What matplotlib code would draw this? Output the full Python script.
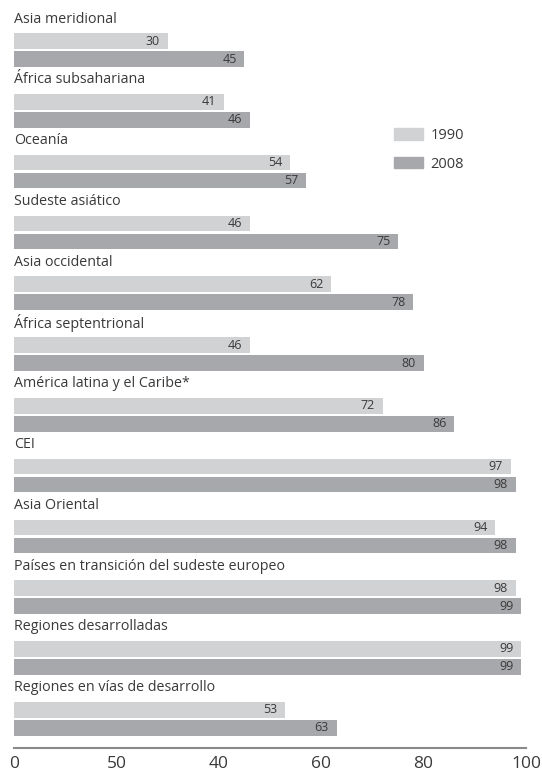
import matplotlib.pyplot as plt
from matplotlib.patches import Patch

regions = ["Asia meridional", "África subsahariana", "Oceanía", "Sudeste asiático",
           "Asia occidental", "África septentrional", "América latina y el Caribe*",
           "CEI", "Asia Oriental", "Países en transición del sudeste europeo",
           "Regiones desarrolladas", "Regiones en vías de desarrollo"]
v1990 = [30, 41, 54, 46, 62, 46, 72, 97, 94, 98, 99, 53]
v2008 = [45, 46, 57, 75, 78, 80, 86, 98, 98, 99, 99, 63]
xticks = [0, 20, 40, 60, 80, 100]
xticklabels = ["0", "50", "40", "60", "80", "100"]

c1990 = "#d1d2d4"
c2008 = "#a7a8ab"
txt = "#3a3a3a"
plt.rcParams['font.family'] = ['Open Sans', 'DejaVu Sans']

W, H = 542, 774
fig = plt.figure(figsize=(W / 100, H / 100), dpi=100)
ax = fig.add_axes([14 / W, (H - 748) / H, (526 - 14) / W, 748 / H])
ax.set_xlim(0, 100)
ax.set_ylim(748, 0)

step = 60.8
bh = 15.5
for i, name in enumerate(regions):
    y0 = 41 + i * step
    y1 = 59 + i * step
    ax.barh(y0, v1990[i], height=bh, color=c1990)
    ax.barh(y1, v2008[i], height=bh, color=c2008)
    ax.text(0, 19 + i * step, name, fontsize=10.3, color=txt, va="center", ha="left")
    ax.text(v1990[i] - 1.5, y0, str(v1990[i]), fontsize=9, color=txt, va="center", ha="right")
    ax.text(v2008[i] - 1.5, y1, str(v2008[i]), fontsize=9, color=txt, va="center", ha="right")

for s in ["top", "right", "left"]:
    ax.spines[s].set_visible(False)
ax.spines["bottom"].set_color("#8a8a8a")
ax.spines["bottom"].set_linewidth(1.5)
ax.set_yticks([])
ax.set_xticks(xticks)
ax.set_xticklabels(xticklabels, fontsize=12.5, color=txt)
ax.tick_params(axis="x", length=0, pad=6)

handles = [Patch(color=c1990, label="1990"), Patch(color=c2008, label="2008")]
fig.legend(handles=handles, loc="upper left", bbox_to_anchor=(381 / W, 1 - 115 / H),
           frameon=False, fontsize=10.5, handlelength=2.0, handleheight=0.8,
           labelspacing=0.95, handletextpad=0.5, labelcolor=txt)

fig.savefig("out.png", dpi=100)
